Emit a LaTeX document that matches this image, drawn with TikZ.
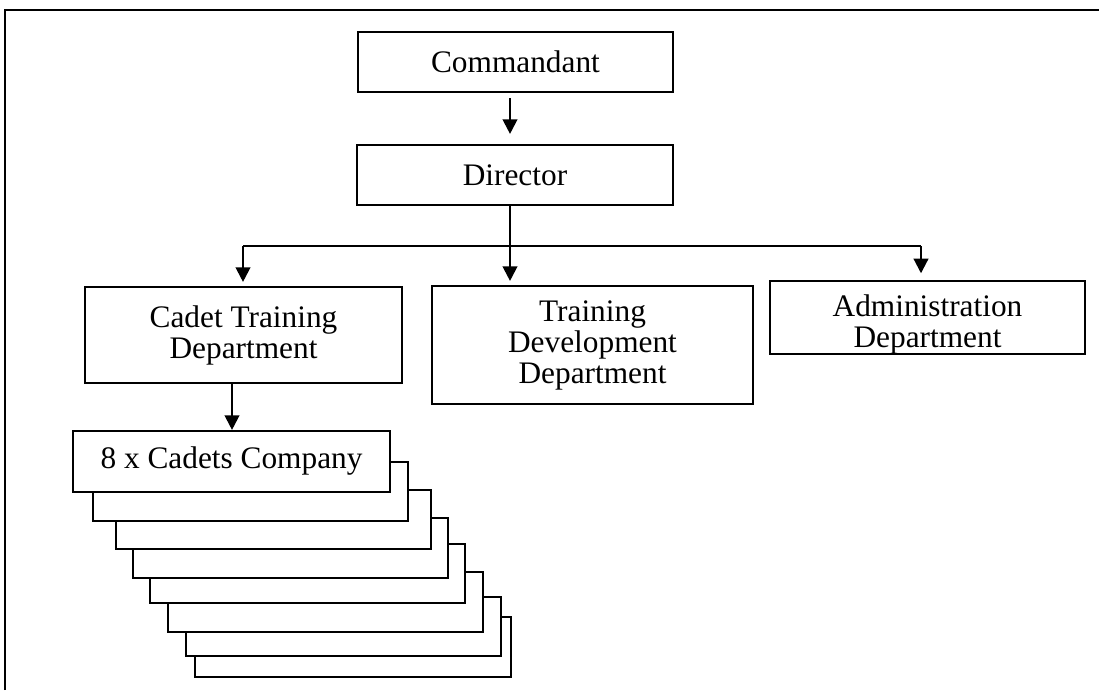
\documentclass[tikz,border=0pt]{standalone}
\usepackage{fontspec}
\setmainfont{Liberation Serif}
\usetikzlibrary{arrows.meta,calc}
\begin{document}
\begin{tikzpicture}[x=0.75pt,y=-0.75pt,
  box/.style={draw, line width=1.6pt, fill=white, inner sep=0pt, align=center,
    font=\fontsize{23.5}{23.25}\selectfont},
  sz/.style 2 args={minimum width=#1*0.75pt, minimum height=#2*0.75pt},
  arr/.style={line width=1.6pt, -{Triangle[width=11pt,length=11pt]}},
  conn/.style={line width=1.6pt},
  frame/.style={line width=1.6pt}]
\useasboundingbox (0,0) rectangle (1099,690);
\draw[frame] (5,690) -- (5,10) -- (1099,10);

% top
\node[box, sz={315}{60}] (cmd) at (515.5,62) {Commandant};
\node[box, sz={316}{60}] (dir) at (515,175) {Director};

% departments
\node[box, sz={317}{96}] (ctd) at (243.5,335) {Cadet Training\\Department};
\node[box, sz={321}{118}] (tdd) at (592.5,345) {Training\\Development\\Department};
\node[box, sz={315}{69}] (adm) at (927.5,317.5) {\rule{0pt}{26pt}Administration\\Department};

% stacked companies (back to front)
\node[box, sz={316}{60}] (c8) at (353,647) {};
\node[box, sz={315}{59}] (c7) at (343.5,626.5) {};
\node[box, sz={315}{60}] (c6) at (325.5,602) {};
\node[box, sz={315}{59}] (c5) at (307.5,573.5) {};
\node[box, sz={315}{60}] (c4) at (290.5,548) {};
\node[box, sz={315}{59}] (c3) at (273.5,519.5) {};
\node[box, sz={315}{59}] (c2) at (250.5,491.5) {};
\node[box, sz={317}{61}] (c1) at (231.5,461.5) {8 x Cadets Company};

% connectors
\coordinate (bus) at (510,246);
\coordinate (busL) at (243,246);
\coordinate (busR) at (921,246);
\coordinate (xc) at (232,0);

\draw[arr, shorten <=3.75pt, shorten >=7.5pt] (cmd.south -| bus) -- (dir.north -| bus);
\draw[arr, shorten >=3pt] (dir.south -| bus) -- (tdd.north -| bus);
\draw[conn] (busL) -- (busR);
\draw[arr, shorten >=3pt] (busL) -- (ctd.north -| busL);
\draw[arr, shorten >=5.25pt] (busR) -- (adm.north -| busR);
\draw[arr] (ctd.south -| xc) -- (c1.north -| xc);
\end{tikzpicture}
\end{document}
